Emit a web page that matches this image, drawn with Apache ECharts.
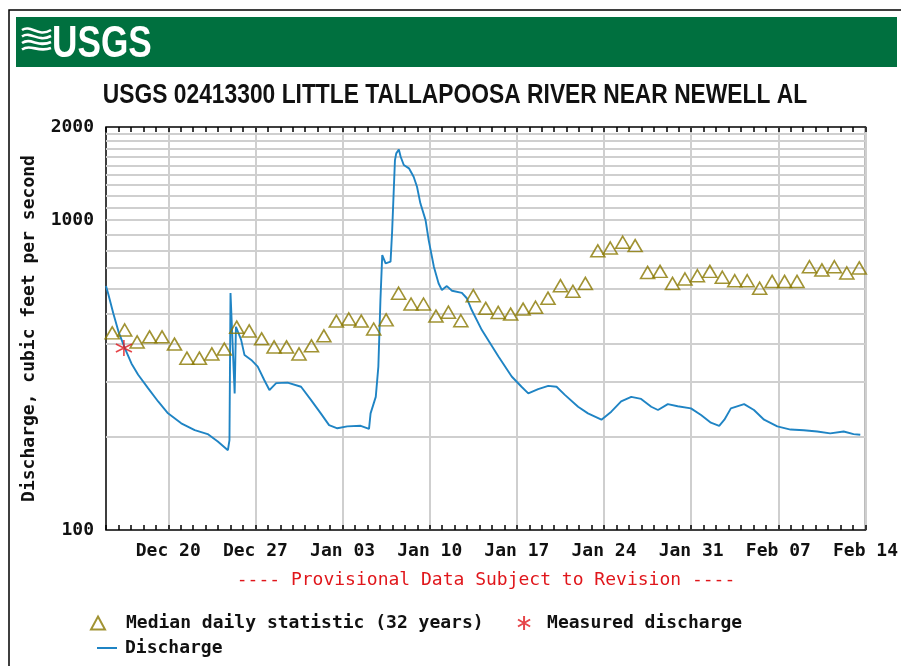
<!DOCTYPE html>
<html>
<head>
<meta charset="utf-8">
<script src="https://cdn.jsdelivr.net/npm/echarts@6/dist/echarts.min.js"></script>
<style>
  html, body { margin: 0; padding: 0; background: #fff; }
  #chart { width: 901px; height: 666px; }
</style>
</head>
<body>
<div id="chart"></div>
<script>
// axis range and labels
const DAY = 86400000;
const startDate = Date.UTC(2018, 11, 15);
const endDate = Date.UTC(2019, 1, 14);
const weekTicks = ['2018-12-20', '2018-12-27', '2019-01-03', '2019-01-10', '2019-01-17',
  '2019-01-24', '2019-01-31', '2019-02-07', '2019-02-14'];
const yGridValues = [200, 300, 400, 500, 600, 700, 800, 900, 1000, 1100, 1200, 1300,
  1400, 1500, 1600, 1700, 1800, 1900];
const monthNames = ['Jan', 'Feb', 'Mar', 'Apr', 'May', 'Jun', 'Jul', 'Aug', 'Sep', 'Oct', 'Nov', 'Dec'];

// median daily statistic, one value per day from Dec 15
const medianValues = [414, 423, 387, 402, 402, 381, 343, 343, 354, 367,
  432, 420, 396, 373, 373, 354, 376, 405, 452, 459,
  452, 426, 456, 556, 513, 513, 469, 483, 453, 546,
  497, 482, 476, 494, 501, 536, 588, 564, 598, 762,
  778, 812, 792, 649, 654, 598, 618, 633, 654, 626,
  610, 610, 577, 607, 607, 607, 677, 661, 677, 646, 671];

// measured discharge
const measuredTime = '2018-12-16T10:30Z';
const measuredValue = 387;

// discharge
const dischargeTimes = [
  '2018-12-15T00:00Z', '2018-12-15T04:00Z', '2018-12-15T14:00Z', '2018-12-16T00:00Z', '2018-12-16T12:30Z',
  '2018-12-17T01:00Z', '2018-12-17T14:00Z', '2018-12-18T09:00Z', '2018-12-19T04:30Z', '2018-12-19T23:30Z',
  '2018-12-21T01:00Z', '2018-12-22T03:00Z', '2018-12-23T04:00Z', '2018-12-23T23:30Z', '2018-12-24T19:00Z',
  '2018-12-24T22:00Z', '2018-12-25T00:00Z', '2018-12-25T08:00Z', '2018-12-25T10:30Z', '2018-12-25T14:00Z',
  '2018-12-25T20:30Z', '2018-12-26T03:00Z', '2018-12-26T16:00Z', '2018-12-27T04:30Z', '2018-12-27T17:00Z',
  '2018-12-28T03:00Z', '2018-12-28T16:00Z', '2018-12-29T14:00Z', '2018-12-30T16:00Z', '2018-12-31T11:00Z',
  '2019-01-01T06:00Z', '2019-01-01T22:00Z', '2019-01-02T14:00Z', '2019-01-03T09:00Z', '2019-01-04T11:00Z',
  '2019-01-05T03:00Z', '2019-01-05T06:00Z', '2019-01-05T16:00Z', '2019-01-05T21:00Z', '2019-01-06T01:00Z',
  '2019-01-06T04:30Z', '2019-01-06T11:00Z', '2019-01-06T20:30Z', '2019-01-06T23:30Z', '2019-01-07T05:00Z',
  '2019-01-07T07:30Z', '2019-01-07T12:30Z', '2019-01-07T16:00Z', '2019-01-07T22:00Z', '2019-01-08T08:00Z',
  '2019-01-08T17:00Z', '2019-01-08T23:30Z', '2019-01-09T06:00Z', '2019-01-09T16:00Z', '2019-01-09T22:00Z',
  '2019-01-10T08:00Z', '2019-01-10T17:00Z', '2019-01-10T23:30Z', '2019-01-11T09:00Z', '2019-01-11T19:00Z',
  '2019-01-12T14:00Z', '2019-01-12T23:30Z', '2019-01-13T09:00Z', '2019-01-14T04:30Z', '2019-01-15T12:30Z',
  '2019-01-16T14:00Z', '2019-01-17T09:00Z', '2019-01-17T22:00Z', '2019-01-18T17:00Z', '2019-01-19T12:30Z',
  '2019-01-20T04:30Z', '2019-01-20T20:30Z', '2019-01-21T22:00Z', '2019-01-22T17:00Z', '2019-01-23T19:00Z',
  '2019-01-24T14:00Z', '2019-01-25T09:00Z', '2019-01-26T04:30Z', '2019-01-26T23:30Z', '2019-01-27T19:00Z',
  '2019-01-28T08:00Z', '2019-01-29T03:00Z', '2019-01-29T22:00Z', '2019-01-30T23:30Z', '2019-01-31T19:00Z',
  '2019-02-01T14:00Z', '2019-02-02T06:00Z', '2019-02-02T16:00Z', '2019-02-03T04:30Z', '2019-02-04T06:00Z',
  '2019-02-05T01:00Z', '2019-02-05T20:30Z', '2019-02-06T22:00Z', '2019-02-07T23:30Z', '2019-02-09T01:00Z',
  '2019-02-10T03:00Z', '2019-02-11T04:00Z', '2019-02-12T06:00Z', '2019-02-13T01:00Z', '2019-02-13T14:00Z'
];
const dischargeValues = [
  613, 581, 501, 437, 386,
  345, 317, 287, 260, 238,
  221, 210, 204, 193, 181,
  195, 582, 276, 453, 449,
  411, 367, 354, 337, 305,
  283, 298, 299, 290, 263,
  238, 218, 213, 216, 217,
  212, 238, 269, 337, 553,
  772, 726, 735, 916, 1564,
  1644, 1693, 1603, 1508, 1471,
  1382, 1283, 1134, 1001, 863,
  708, 626, 595, 613, 592,
  583, 560, 513, 442, 363,
  313, 290, 276, 285, 292,
  290, 273, 250, 238, 227,
  241, 260, 269, 265, 250,
  244, 255, 251, 247, 235,
  222, 217, 227, 247, 255,
  244, 227, 216, 211, 210,
  208, 205, 208, 204, 203
];

const monoFont = "'DejaVu Sans Mono', 'Liberation Mono', monospace";
const sansFont = "'Liberation Sans', Arial, sans-serif";

const fmtDate = function (v) {
  const d = new Date(v);
  const day = d.getUTCDate();
  return monthNames[d.getUTCMonth()] + ' ' + (day < 10 ? '0' + day : day);
};

const chart = echarts.init(document.getElementById('chart'), null, { renderer: 'canvas' });

const weekValues = weekTicks.map(function (s) { return Date.parse(s + 'T00:00Z'); });
const medianData = medianValues.map(function (v, i) { return [startDate + i * DAY + DAY / 2, v]; });
const dischargeData = dischargeTimes.map(function (t, i) { return [Date.parse(t), dischargeValues[i]]; });

const asterisk = 'path://M5,0L5,10M0.67,2.5L9.33,7.5M0.67,7.5L9.33,2.5';

const dayAxis = function (pos) {
  return {
    type: 'value',
    position: pos,
    min: startDate,
    max: endDate,
    interval: DAY,
    axisLine: { show: false, onZero: false },
    axisTick: { show: true, inside: true, length: 5, lineStyle: { color: '#000', width: 1.5 } },
    axisLabel: { show: false },
    splitLine: { show: false }
  };
};

const legendText = function (pad) {
  return { fontFamily: monoFont, fontWeight: 'bold', fontSize: 18, color: '#111', padding: [0, 0, 0, pad] };
};

const option = {
  animation: false,
  backgroundColor: '#fff',
  graphic: [
    {
      type: 'polyline',
      shape: { points: [[9, 666], [9, 10], [901, 10]] },
      style: { stroke: '#000', lineWidth: 1.5, fill: null }
    },
    {
      type: 'rect',
      shape: { x: 16, y: 17, width: 881, height: 50 },
      style: { fill: '#00703f' }
    },
    {
      type: 'group',
      children: [0, 1, 2, 3].map(function (i) {
        return {
          type: 'bezierCurve',
          shape: { x1: 22, y1: 30 + i * 6.5, cpx1: 31, cpy1: 24 + i * 6.5, cpx2: 38, cpy2: 38 + i * 5, x2: 51, y2: 30 + i * 6 },
          style: { stroke: '#fff', lineWidth: 2.6, fill: null }
        };
      })
    },
    {
      type: 'text',
      x: 52,
      y: 23,
      scaleX: 0.8,
      style: { text: 'USGS', fill: '#fff', font: 'bold 44px ' + sansFont, textAlign: 'left', textVerticalAlign: 'top' }
    },
    {
      type: 'text',
      x: 455,
      y: 82,
      scaleX: 0.845,
      style: {
        text: 'USGS 02413300 LITTLE TALLAPOOSA RIVER NEAR NEWELL AL',
        fill: '#111',
        font: 'bold 27px ' + sansFont,
        textAlign: 'center',
        textVerticalAlign: 'top'
      }
    },
    {
      type: 'text',
      x: 486,
      y: 580,
      style: {
        text: '---- Provisional Data Subject to Revision ----',
        fill: '#e0161b',
        font: '18px ' + monoFont,
        textAlign: 'center',
        textVerticalAlign: 'middle'
      }
    }
  ],
  legend: [
    {
      left: 85, top: 609, itemWidth: 14, itemHeight: 13, selectedMode: false,
      data: ['Median daily statistic (32 years)'],
      textStyle: legendText(16)
    },
    {
      left: 512, top: 609, itemWidth: 14, itemHeight: 14, selectedMode: false,
      data: ['Measured discharge'],
      textStyle: legendText(11)
    },
    {
      left: 92, top: 634, itemWidth: 20, itemHeight: 2, selectedMode: false,
      data: [{ name: 'Discharge', icon: 'rect' }],
      textStyle: legendText(3)
    }
  ],
  grid: {
    left: 106,
    top: 127,
    right: 33,
    bottom: 136,
    show: true,
    borderColor: '#000',
    borderWidth: 1.5,
    backgroundColor: 'transparent'
  },
  xAxis: [
    {
      type: 'value',
      position: 'bottom',
      min: startDate,
      max: endDate,
      axisLine: { show: false, onZero: false },
      axisTick: { show: false, customValues: weekValues },
      axisLabel: {
        customValues: weekValues,
        formatter: fmtDate,
        margin: 12,
        fontFamily: monoFont,
        fontWeight: 'bold',
        fontSize: 18,
        color: '#111'
      },
      splitLine: { show: true, lineStyle: { color: '#cfcfcf', width: 2 } }
    },
    dayAxis('bottom'),
    dayAxis('top')
  ],
  yAxis: {
    type: 'log',
    logBase: 10,
    min: 100,
    max: 2000,
    name: 'Discharge, cubic feet per second',
    nameLocation: 'middle',
    nameGap: 68,
    nameRotate: 90,
    nameTextStyle: { fontFamily: monoFont, fontWeight: 'bold', fontSize: 18, color: '#111' },
    axisLine: { show: false },
    axisTick: { show: false },
    splitLine: { show: false },
    axisLabel: {
      margin: 12,
      fontFamily: monoFont,
      fontWeight: 'bold',
      fontSize: 18,
      color: '#111',
      formatter: function (v) { return String(Math.round(v)); }
    }
  },
  series: [
    {
      name: 'Discharge',
      type: 'line',
      xAxisIndex: 0,
      symbol: 'none',
      data: dischargeData,
      lineStyle: { color: '#1f84c4', width: 1.9 },
      itemStyle: { color: '#1f84c4' },
      z: 3,
      markLine: {
        silent: true,
        symbol: 'none',
        z: 1,
        label: { show: false },
        lineStyle: { color: '#cfcfcf', width: 2, type: 'solid' },
        emphasis: { disabled: true },
        data: yGridValues.map(function (v) { return { yAxis: v }; })
      }
    },
    {
      name: 'Median daily statistic (32 years)',
      type: 'scatter',
      xAxisIndex: 0,
      symbol: 'triangle',
      symbolSize: [14, 12],
      symbolOffset: [0, -6],
      data: medianData,
      itemStyle: { color: 'rgba(255,255,255,0)', borderColor: '#8a7800', borderWidth: 1.6 },
      z: 4
    },
    {
      name: 'Measured discharge',
      type: 'scatter',
      xAxisIndex: 0,
      symbol: asterisk,
      symbolSize: 16,
      data: [[Date.parse(measuredTime), measuredValue]],
      itemStyle: { color: 'rgba(255,255,255,0)', borderColor: '#e0161b', borderWidth: 1.6 },
      z: 5
    }
  ]
};

chart.setOption(option);
</script>
</body>
</html>
